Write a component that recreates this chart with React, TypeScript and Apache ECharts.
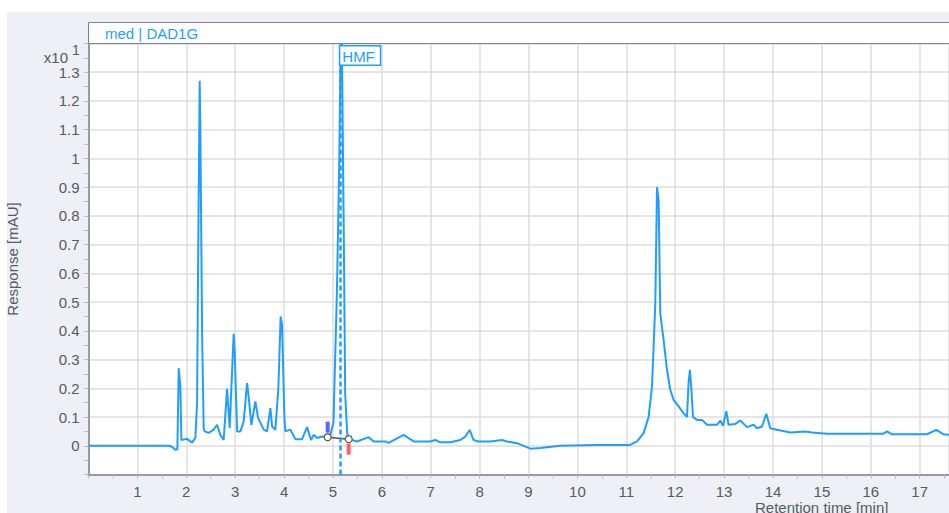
import React, { useEffect, useRef } from "react";
import * as echarts from "echarts";

// Chromatogram trace (retention time in min, response in x10 mAU)
const timeA = [0, 1.65, 1.716, 1.777, 1.818, 1.845, 1.879, 1.9, 2.016, 2.119, 2.186, 2.221, 2.24, 2.274, 2.288, 2.323, 2.356, 2.376];
const respA = [0, 0, -0.005, -0.014, -0.012, 0.27, 0.206, 0.02, 0.024, 0.011, 0.028, 0.15, 0.6, 1.27, 1.1, 0.4, 0.06, 0.05];

const timeB = [2.458, 2.554, 2.63, 2.697, 2.765, 2.834, 2.888, 2.922, 2.969, 2.99, 3.039, 3.106, 3.174, 3.243, 3.276, 3.331, 3.413, 3.468, 3.583, 3.652, 3.72, 3.755, 3.822, 3.883, 3.93, 3.959, 4.006, 4.027, 4.129, 4.231, 4.368, 4.47, 4.552, 4.605, 4.675, 4.777, 4.892];
const respB = [0.045, 0.055, 0.073, 0.038, 0.02, 0.198, 0.062, 0.2, 0.39, 0.33, 0.05, 0.05, 0.085, 0.218, 0.17, 0.073, 0.154, 0.097, 0.056, 0.05, 0.131, 0.067, 0.056, 0.2, 0.45, 0.42, 0.1, 0.05, 0.056, 0.023, 0.023, 0.065, 0.02, 0.038, 0.027, 0.032, 0.03];

const timeC = [4.95, 5.01, 5.08, 5.13, 5.17, 5.22, 5.25, 5.29, 5.321];
const respC = [0.04, 0.08, 0.53, 1.0, 1.6, 0.76, 0.18, 0.045, 0.023];

const timeD = [5.39, 5.493, 5.73, 5.832, 6.072, 6.139, 6.446, 6.65, 6.992, 7.094, 7.196, 7.401, 7.605, 7.707, 7.796, 7.877, 7.98, 8.219, 8.458, 8.56, 8.765, 9.037, 9.241, 9.378, 9.65, 10.4, 11.08];
const respD = [0.02, 0.015, 0.03, 0.015, 0.015, 0.01, 0.038, 0.015, 0.015, 0.02, 0.012, 0.012, 0.02, 0.032, 0.055, 0.02, 0.015, 0.015, 0.02, 0.015, 0.009, -0.01, -0.008, -0.005, 0.0, 0.003, 0.003];

const timeE = [11.22, 11.354, 11.456, 11.525, 11.558, 11.593, 11.628, 11.661, 11.695, 11.763, 11.832, 11.9, 11.967, 12.07, 12.172, 12.241, 12.274, 12.3, 12.33, 12.364, 12.446, 12.548, 12.65, 12.855, 12.922, 12.977, 13.045, 13.092, 13.229, 13.331, 13.468, 13.603, 13.673, 13.775, 13.863, 13.945, 14.082, 14.354, 14.66, 14.797, 15.104, 16.262, 16.331, 16.434, 17.149, 17.34, 17.489, 17.605];
const respE = [0.015, 0.044, 0.1, 0.206, 0.345, 0.495, 0.9, 0.854, 0.46, 0.368, 0.264, 0.194, 0.16, 0.137, 0.113, 0.1, 0.22, 0.264, 0.2, 0.1, 0.09, 0.09, 0.073, 0.073, 0.088, 0.07, 0.12, 0.073, 0.076, 0.088, 0.065, 0.073, 0.061, 0.067, 0.111, 0.061, 0.056, 0.046, 0.05, 0.046, 0.042, 0.042, 0.05, 0.04, 0.04, 0.055, 0.04, 0.038];

// HMF peak annotation
const hmfName = "HMF";
const hmfTime = 5.15;
const hmfBaselineTime = [4.892, 5.321];
const hmfBaselineResp = [0.03, 0.023];

// Axes
const xMin = 0;
const xMax = 17.6;
const yMin = -0.1;
const yMax = 1.4;

const TRACE = "#1e9fff";
const AXIS = "#7d8196";
const TEXT = "#555a63";
const FONT = "'Liberation Sans', Arial, sans-serif";

function zip(t: number[], v: number[]) {
  const n = Math.min(t.length, v.length);
  const out: number[][] = [];
  for (let i = 0; i < n; i++) out.push([t[i], v[i]]);
  return out;
}

export default function App() {
  const ref = useRef<HTMLDivElement>(null);
  useEffect(() => {
    if (!ref.current) return;
    const chart = echarts.init(ref.current, undefined, { renderer: "svg" });
    const trace = [
      ...zip(timeA, respA),
      ...zip(timeB, respB),
      ...zip(timeC, respC),
      ...zip(timeD, respD),
      ...zip(timeE, respE),
    ];
    const gridLeft = 88.5;
    const gridTop = 43.5;
    chart.setOption({
      animation: false,
      backgroundColor: "#ffffff",
      textStyle: { fontFamily: FONT },
      graphic: [
        {
          type: "rect",
          z: -10,
          silent: true,
          shape: { x: 7, y: 12, width: 960, height: 520 },
          style: { fill: "#eef0f6" },
        },
        {
          type: "rect",
          z: 5,
          silent: true,
          shape: { x: gridLeft, y: 22.5, width: 880, height: 21 },
          style: { fill: "#ffffff", stroke: AXIS, lineWidth: 1 },
        },
        {
          type: "text",
          z: 6,
          x: 105,
          y: 33,
          style: { text: "med | DAD1G", fill: TRACE, font: `15px ${FONT}`, verticalAlign: "middle" },
        },
        {
          type: "text",
          z: 6,
          x: 68,
          y: 57,
          style: { text: "x10", fill: TEXT, font: `15px ${FONT}`, align: "right", verticalAlign: "middle" },
        },
        {
          type: "text",
          z: 6,
          x: 72,
          y: 50,
          style: { text: "1", fill: TEXT, font: `14px ${FONT}`, align: "left", verticalAlign: "middle" },
        },
        {
          type: "text",
          z: 6,
          x: 755,
          y: 507,
          style: {
            text: "Retention time [min]",
            fill: TEXT,
            font: `15px ${FONT}`,
            lineHeight: 14,
            align: "left",
            verticalAlign: "middle",
          },
        },
      ],
      grid: {
        left: gridLeft,
        top: gridTop,
        right: 0,
        bottom: 38.5,
        show: true,
        backgroundColor: "#ffffff",
        borderWidth: 0,
        containLabel: false,
        outerBoundsMode: "none",
      },
      xAxis: {
        type: "value",
        min: xMin,
        max: xMax,
        interval: 1,
        axisLine: { show: true, onZero: false, lineStyle: { color: AXIS, width: 1.5 } },
        axisTick: { show: true, length: 4, lineStyle: { color: "#b4b7c4" } },
        minorTick: { show: true, splitNumber: 2, length: 4, lineStyle: { color: "#b4b7c4" } },
        splitLine: { show: true, lineStyle: { color: "#dddddd", width: 1.5 } },
        axisLabel: {
          color: TEXT,
          fontSize: 15,
          lineHeight: 14,
          fontFamily: FONT,
          margin: 10,
          formatter: (v: number) => (v <= 0 || v > 17.05 ? "" : String(Math.round(v))),
        },
      },
      yAxis: {
        type: "value",
        min: yMin,
        max: yMax,
        interval: 0.1,
        name: "Response [mAU]",
        nameLocation: "middle",
        nameGap: 69,
        nameTextStyle: { color: TEXT, fontSize: 15, fontFamily: FONT },
        axisLine: { show: true, lineStyle: { color: AXIS, width: 1.5 } },
        axisTick: { show: true, length: 4, lineStyle: { color: "#b4b7c4" } },
        minorTick: { show: true, splitNumber: 2, length: 4, lineStyle: { color: "#b4b7c4" } },
        splitLine: { show: true, lineStyle: { color: "#dddddd", width: 1.5 } },
        axisLabel: {
          color: TEXT,
          fontSize: 15,
          fontFamily: FONT,
          margin: 9,
          formatter: (v: number) => (v < -0.05 || v > 1.35 ? "" : String(+v.toFixed(1))),
        },
      },
      series: [
        {
          type: "line",
          data: trace,
          symbol: "none",
          clip: true,
          z: 3,
          lineStyle: { color: TRACE, width: 2 },
          markLine: {
            silent: true,
            symbol: "none",
            label: { show: false },
            lineStyle: { color: TRACE, width: 2.5, type: [5, 3] },
            data: [{ xAxis: hmfTime }],
          },
          markPoint: {
            silent: true,
            symbol: "rect",
            symbolSize: 0,
            data: [
              {
                coord: [hmfTime, yMax],
                label: {
                  show: true,
                  formatter: hmfName,
                  position: [0, 3],
                  color: TRACE,
                  fontSize: 15,
                  fontFamily: FONT,
                  backgroundColor: "#ffffff",
                  borderColor: TRACE,
                  borderWidth: 1.5,
                  padding: [2, 5, 1, 2],
                },
              },
            ],
          },
        },
        {
          type: "line",
          z: 4,
          data: zip(hmfBaselineTime, hmfBaselineResp),
          symbol: "circle",
          symbolSize: 7,
          lineStyle: { color: "#555555", width: 1.5 },
          itemStyle: { color: "#ffffff", borderColor: "#555555", borderWidth: 1.2 },
        },
        {
          type: "scatter",
          z: 4,
          data: [[hmfBaselineTime[0], hmfBaselineResp[0]]],
          symbol: "rect",
          symbolSize: [4, 11],
          symbolOffset: [0, -10],
          itemStyle: { color: "#3a3aff" },
        },
        {
          type: "scatter",
          z: 4,
          data: [[hmfBaselineTime[1], hmfBaselineResp[1]]],
          symbol: "rect",
          symbolSize: [4, 11],
          symbolOffset: [0, 10],
          itemStyle: { color: "#ff3b3b" },
        },
      ],
    });
    return () => chart.dispose();
  }, []);
  return (
    <div
      ref={ref}
      style={{ position: "fixed", left: 0, top: 0, width: 949, height: 513, overflow: "hidden" }}
    />
  );
}
